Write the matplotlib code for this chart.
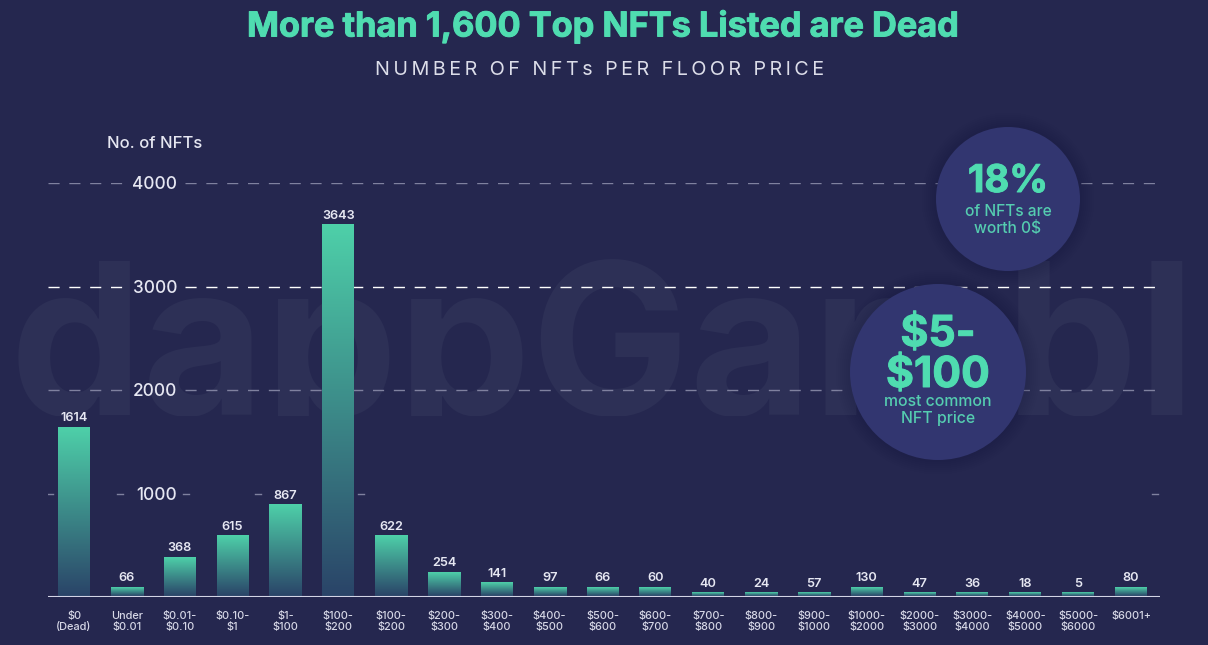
"""NFT floor price chart"""

import numpy as np
import matplotlib
matplotlib.use("Agg")
import matplotlib.pyplot as plt
import matplotlib.patches as mpatches
import matplotlib.patheffects as pe
from matplotlib.colors import LinearSegmentedColormap

plt.rcParams["font.family"] = ["Inter", "DejaVu Sans"]

BG = "#25274f"
GREEN = "#4fdcb0"
CIRCLE = "#323670"
SOFT_WHITE = "#e6e7f2"

categories = [
    "$0\n(Dead)", "Under\n$0.01", "$0.01-\n$0.10", "$0.10-\n$1", "$1-\n$100",
    "$100-\n$200", "$100-\n$200", "$200-\n$300", "$300-\n$400", "$400-\n$500",
    "$500-\n$600", "$600-\n$700", "$700-\n$800", "$800-\n$900", "$900-\n$1000",
    "$1000-\n$2000", "$2000-\n$3000", "$3000-\n$4000", "$4000-\n$5000",
    "$5000-\n$6000", "$6001+",
]
values = [1614, 66, 368, 615, 867, 3643, 622, 254, 141, 97, 66, 60, 40, 24, 57,
          130, 47, 36, 18, 5, 80]
# the bars in the picture do not quite follow their labels, these are as drawn
bar_heights = [1640, 95, 385, 590, 890, 3595, 590, 240, 140, 95, 95, 95, 40, 40,
               40, 95, 40, 40, 40, 40, 95]
y_ticks = [1000, 2000, 3000, 4000]

W, H = 1208, 645
fig = plt.figure(figsize=(W / 100, H / 100), dpi=100, facecolor=BG)
heavy = [pe.withStroke(linewidth=0.7, foreground=GREEN)]

# background layer and overlay work in image pixels
back = fig.add_axes([0, 0, 1, 1], zorder=0)
back.set_xlim(0, W)
back.set_ylim(H, 0)
back.axis("off")

clip = mpatches.Rectangle((0, 200), W, 216, transform=back.transData)
mark = back.text(603, 415, "dappGambl", fontsize=152, fontweight="bold",
                 color="#2d3056", ha="center", va="baseline", clip_on=True)
mark.set_clip_path(clip)

# chart
left, right, top, base = 48, 1160, 183, 597
ax = fig.add_axes([left / W, 1 - base / H, (right - left) / W, (base - top) / H],
                  zorder=1)
ax.patch.set_alpha(0)
for s in ax.spines.values():
    s.set_visible(False)

step = 52.85
first = 74
bar_w = 32 / step
cmap = LinearSegmentedColormap.from_list("bar", ["#2a4468", "#4ed0a9"])
grad = np.linspace(1, 0, 256).reshape(-1, 1)

for i, (v, h) in enumerate(zip(values, bar_heights)):
    ax.imshow(grad, extent=[i - bar_w / 2, i + bar_w / 2, 10, h], aspect="auto",
              cmap=cmap, vmin=0, vmax=1, zorder=3)
    ax.annotate(str(v), (i, h), xytext=(0, 2), textcoords="offset points",
                ha="center", va="bottom", fontsize=9.2, fontweight="semibold",
                color=SOFT_WHITE, zorder=4)

ax.set_xlim((left - first) / step, (right - first) / step)
ax.set_ylim(0, 4000)

ax.set_xticks(range(len(categories)))
ax.set_xticklabels(categories, fontsize=7.9, fontweight="medium", color="#d6d7e6",
                   linespacing=1.15)
ax.set_yticks(y_ticks)
ax.set_yticklabels(y_ticks, fontsize=12.4, fontweight="medium", color=SOFT_WHITE)
ax.tick_params(axis="x", length=0, pad=10)
ax.tick_params(axis="y", length=0, pad=-93)

# dashed lines leave a gap around the tick labels
dash = (0, (8, 7))
gap = ((123 - left) / (right - left), (185 - left) / (right - left))
trans = ax.get_yaxis_transform()
for y, c in [(4000, "#7f819f"), (3000, "#ffffff"), (2000, "#7f819f")]:
    ax.plot([0, gap[0]], [y, y], transform=trans, color=c, lw=1, ls=dash, zorder=1)
    ax.plot([gap[1], 1], [y, y], transform=trans, color=c, lw=1, ls=dash, zorder=1)

# the 1000 line only survives as a few dashes
for x in [50, 120, 186, 258, 361, 1155]:
    f = (x - left) / (right - left)
    ax.plot([f - 0.003, f + 0.003], [1000, 1000], transform=trans, color="#7f819f",
            lw=1, zorder=1)

ax.axhline(0, color="#d3d4e6", lw=1.5, zorder=5)

# overlay with titles and circles
top_ax = fig.add_axes([0, 0, 1, 1], zorder=2)
top_ax.set_xlim(0, W)
top_ax.set_ylim(H, 0)
top_ax.axis("off")

top_ax.text(603, 27, "More than 1,600 Top NFTs Listed are Dead", fontsize=24.7,
            fontweight="bold", color=GREEN, ha="center", va="center",
            path_effects=heavy)
top_ax.text(600, 70, "\u200a\u200a".join("NUMBER OF NFTs PER FLOOR PRICE"), fontsize=14.2,
            color="#dcdde9", ha="center", va="center")
top_ax.text(107, 143, "No. of NFTs", fontsize=12, fontweight="medium",
            color=SOFT_WHITE, ha="left", va="center")

for cx, cy, r in [(1008, 199, 72), (938, 372, 88)]:
    for extra in range(14, 0, -2):
        top_ax.add_patch(mpatches.Circle((cx, cy), r + extra, color="#14153a",
                                         alpha=0.035, lw=0))
    top_ax.add_patch(mpatches.Circle((cx, cy), r, color=CIRCLE, lw=0))

top_ax.text(1008, 182, "18%", fontsize=27.5, fontweight="bold", color=GREEN,
            ha="center", va="center", path_effects=heavy)
top_ax.text(1008, 220, "of NFTs are\nworth 0$", fontsize=11.2, fontweight="medium",
            color="#55cdb0", ha="center", va="center", linespacing=1.1)
top_ax.text(938, 355, "$5-\n$100", fontsize=30.7, fontweight="bold", color=GREEN,
            ha="center", va="center", linespacing=1.0, path_effects=heavy)
top_ax.text(938, 410, "most common\nNFT price", fontsize=11.4, fontweight="medium",
            color="#55cdb0", ha="center", va="center", linespacing=1.1)

fig.savefig("out.png", dpi=100, facecolor=BG)
